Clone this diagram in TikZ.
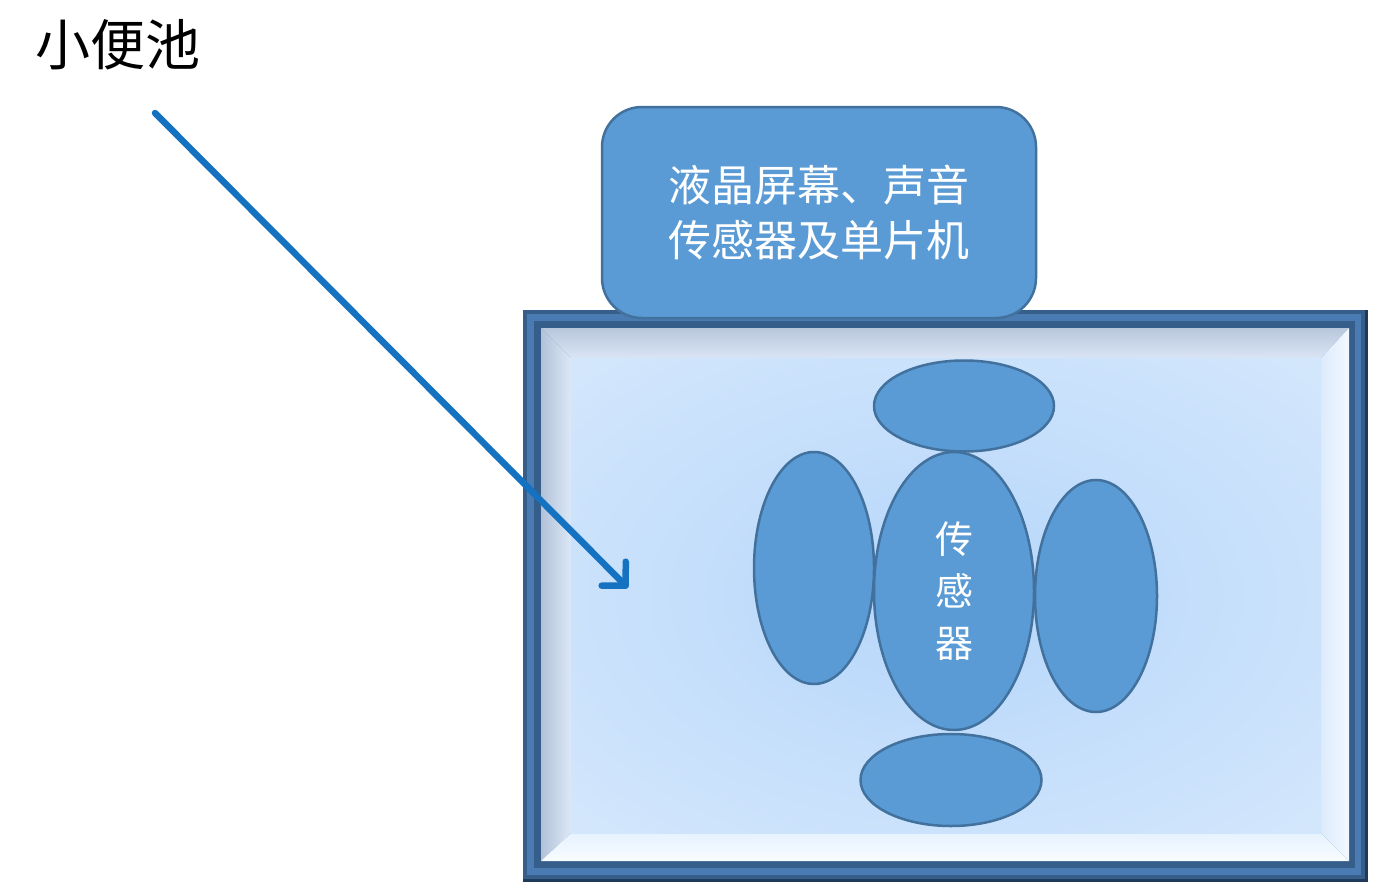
\documentclass[tikz,border=0pt]{standalone}
\usepackage{fontspec}
\newfontfamily\cjk{Noto Sans CJK SC}
\usetikzlibrary{shapes.geometric,arrows.meta}

\definecolor{frameDark}{HTML}{355E8B}
\definecolor{frameMid}{HTML}{4A7BB3}
\definecolor{frameEdge}{HTML}{1E3A58}
\definecolor{bevelTopOut}{HTML}{B9C7DC}
\definecolor{bevelTopIn}{HTML}{D9E5F5}
\definecolor{bevelLeftOut}{HTML}{B3C2D9}
\definecolor{bevelLeftIn}{HTML}{DCE8F7}
\definecolor{bevelBottomOut}{HTML}{F8FCFF}
\definecolor{bevelBottomIn}{HTML}{E6F2FE}
\definecolor{bevelRightOut}{HTML}{F2F8FF}
\definecolor{bevelRightIn}{HTML}{DCEBFC}
\definecolor{poolIn}{HTML}{B6D6FA}
\definecolor{poolOut}{HTML}{E0EEFD}
\definecolor{padFill}{HTML}{5B9BD5}
\definecolor{padLine}{HTML}{41719C}
\definecolor{arrowBlue}{HTML}{1472C0}

% soft glow that reaches its outer colour at the edge of the opening
\pgfdeclareradialshading{poolglow}{\pgfpoint{0bp}{0bp}}{%
  color(0bp)=(poolIn); color(50bp)=(poolOut); color(70bp)=(poolOut)}

\tikzset{
  panel/.style={draw=padLine, line width=2.5pt, fill=padFill, text=white,
    rounded corners=40pt, minimum width=434pt, minimum height=211pt,
    inner sep=0pt, align=center, font=\cjk\fontsize{43}{55}\selectfont},
  pad/.style={ellipse, draw=padLine, line width=2.5pt, fill=padFill,
    inner sep=0pt, text=white},
  pointer/.style={draw=arrowBlue, line width=6.5pt, line cap=round,
    -{Straight Barb[length=17pt, width=34pt, line cap=round, line join=round]}},
  caption/.style={font=\cjk\fontsize{55}{60}\selectfont, inner sep=0pt}
}

\begin{document}
\begin{tikzpicture}[x=1pt, y=-1pt]
\useasboundingbox (0,0) rectangle (1381,894);

% title
\node[caption] (title) at (118,45) {小便池};

% bevelled frame of the pool
\fill[frameEdge] (523,310) rectangle (1368,882);
\fill[frameDark] (523,310) rectangle (1365,879);
\fill[frameMid] (527,314) rectangle (1361,875);
\fill[frameDark] (534,321) rectangle (1355,868);
\shade[top color=bevelTopOut, bottom color=bevelTopIn]
  (541,328) -- (1349,328) -- (1321,358) -- (571,358) -- cycle;
\shade[left color=bevelLeftOut, right color=bevelLeftIn]
  (541,328) -- (571,358) -- (571,833) -- (541,861) -- cycle;
\shade[top color=bevelBottomIn, bottom color=bevelBottomOut]
  (541,861) -- (1349,861) -- (1321,833) -- (571,833) -- cycle;
\shade[left color=bevelRightIn, right color=bevelRightOut]
  (1349,328) -- (1349,861) -- (1321,833) -- (1321,358) -- cycle;
\shade[shading=poolglow] (571,358) rectangle (1321,833);

% control panel on top of the pool
\node[panel] (panel) at (819,212.5) {液晶屏幕、声音\\传感器及单片机};

% sensor cluster
\node[pad, minimum width=180pt, minimum height=91pt] (topPad) at (964,406) {};
\node[pad, minimum width=120pt, minimum height=232pt] (leftPad) at (814,568) {};
\node[pad, minimum width=122pt, minimum height=232pt] (rightPad) at (1096,596) {};
\node[pad, minimum width=181pt, minimum height=92pt] (bottomPad) at (951,780) {};
\node[pad, minimum width=160pt, minimum height=278pt, align=center,
  font=\cjk\fontsize{38}{52}\selectfont] (core) at (954,591) {传\\感\\器};

% pointer from the title into the pool
\coordinate (arrowStart) at (155,113);
\coordinate (arrowEnd) at (628,588);
\draw[pointer] (arrowStart) -- (arrowEnd);
\end{tikzpicture}
\end{document}
